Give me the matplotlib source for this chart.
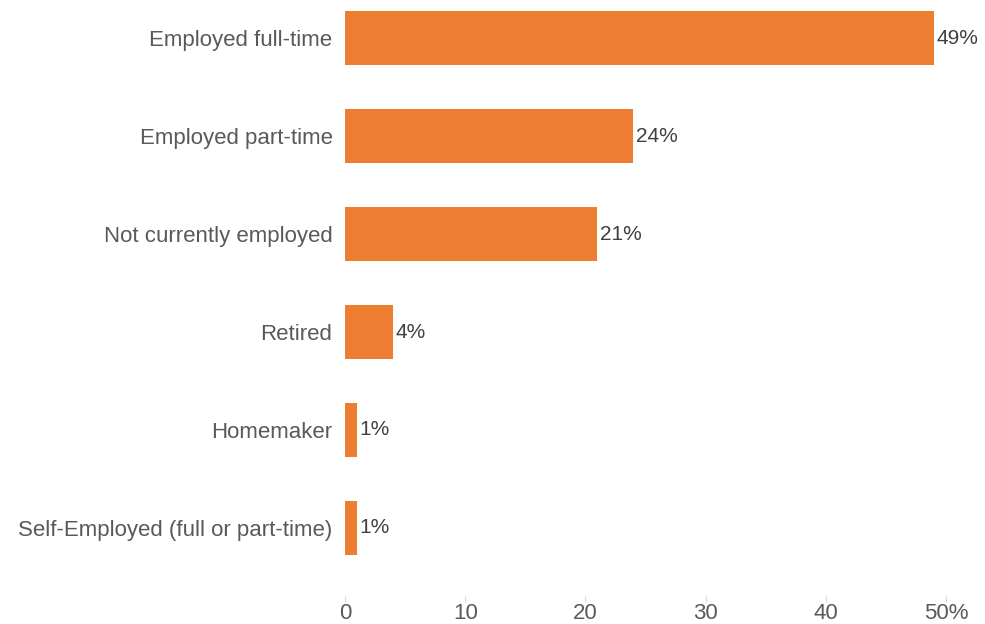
import numpy as np
import matplotlib
matplotlib.use("Agg")
from matplotlib import pyplot as plt

categories = [
    "Employed full-time",
    "Employed part-time",
    "Not currently employed",
    "Retired",
    "Homemaker",
    "Self-Employed (full or part-time)",
]
shares = [49, 24, 21, 4, 1, 1]
x_ticks = [0, 10, 20, 30, 40, 50]
x_tick_labels = ["0", "10", "20", "30", "40", "50%"]

BAR_COLOR = "#ED7D31"
TEXT_COLOR = "#595959"

plt.rcParams["font.family"] = ["Liberation Sans", "DejaVu Sans"]

fig = plt.figure(figsize=(9.85, 6.24), dpi=100)
ax = fig.add_axes([345 / 985, 1 - 596 / 624, (946 - 345) / 985, 596 / 624])

pos = np.arange(len(categories))
ax.barh(pos, shares, height=0.55, color=BAR_COLOR)

# value labels just past the bar ends
for y, v in zip(pos, shares):
    ax.annotate(f"{v}%", (v, y), xytext=(2, 0), textcoords="offset points",
                ha="left", va="center", fontsize=15, color="#404040")

ax.set_xlim(0, 50)
ax.set_ylim(5.694, -0.388)
ax.set_yticks(pos)
ax.set_yticklabels(categories, fontsize=16, color=TEXT_COLOR)
ax.set_xticks(x_ticks)
ax.set_xticklabels(x_tick_labels, fontsize=16, color=TEXT_COLOR)

ax.tick_params(axis="y", length=0, pad=9)
ax.tick_params(axis="x", length=4, width=0.8, color="#D9D9D9", pad=1)
for s in ax.spines.values():
    s.set_visible(False)

fig.savefig("out.png", dpi=100)
